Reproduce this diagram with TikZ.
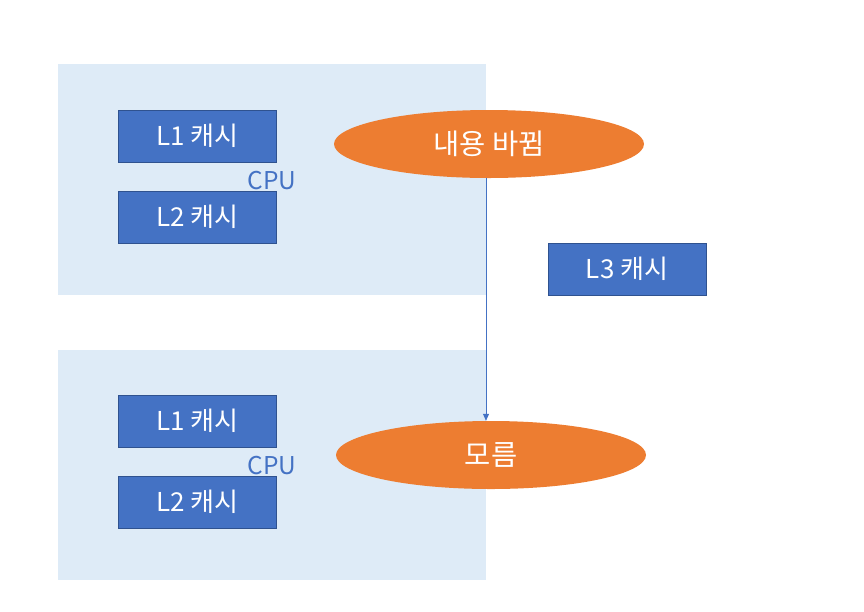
\documentclass[tikz,border=0pt]{standalone}
\usepackage{fontspec}
\setmainfont{Noto Sans CJK KR}
\usetikzlibrary{shapes.geometric,arrows.meta}
\definecolor{panel}{HTML}{DEEBF7}
\definecolor{boxfill}{HTML}{4472C4}
\definecolor{boxline}{HTML}{2F528F}
\definecolor{orng}{HTML}{ED7D31}
\begin{document}
\begin{tikzpicture}[x=1pt,y=-1pt,
  panelbox/.style={fill=panel,draw=none},
  cachebox/.style={draw=boxline,line width=0.8pt,fill=boxfill,text=white,minimum width=158pt,minimum height=52pt,inner sep=0pt,font=\fontsize{26}{30}\selectfont},
  stateell/.style={ellipse,fill=orng,draw=none,text=white,minimum width=310pt,minimum height=68pt,inner sep=0pt,font=\fontsize{28.5}{32}\selectfont},
  cpulabel/.style={text=boxfill,font=\fontsize{24.5}{28}\selectfont,inner sep=0pt}]
\useasboundingbox (0,0) rectangle (864,611);
\fill[panelbox] (58,64) rectangle (486,295);
\fill[panelbox] (58,350) rectangle (486,580);
\node[cachebox] (l1a) at (197.5,136) {L1 캐시};
\node[cachebox] (l2a) at (197.5,217) {L2 캐시};
\node[cpulabel] (cpua) at (272,181) {CPU};
\node[cachebox] (l1b) at (197.5,421) {L1 캐시};
\node[cachebox] (l2b) at (197.5,502) {L2 캐시};
\node[cpulabel] (cpub) at (272,466) {CPU};
\node[cachebox] (l3) at (627,269) {L3 캐시};
\node[stateell] (e1) at (489,144) {내용 바뀜};
\node[stateell] (e2) at (491,455) {모름};
\coordinate (a1) at (e1.south -| 486,0);
\coordinate (a2) at (e2.north -| 486,0);
\draw[boxfill,line width=0.8pt,-{Triangle[length=7pt,width=6pt]}] (a1) -- (a2);
\end{tikzpicture}
\end{document}
